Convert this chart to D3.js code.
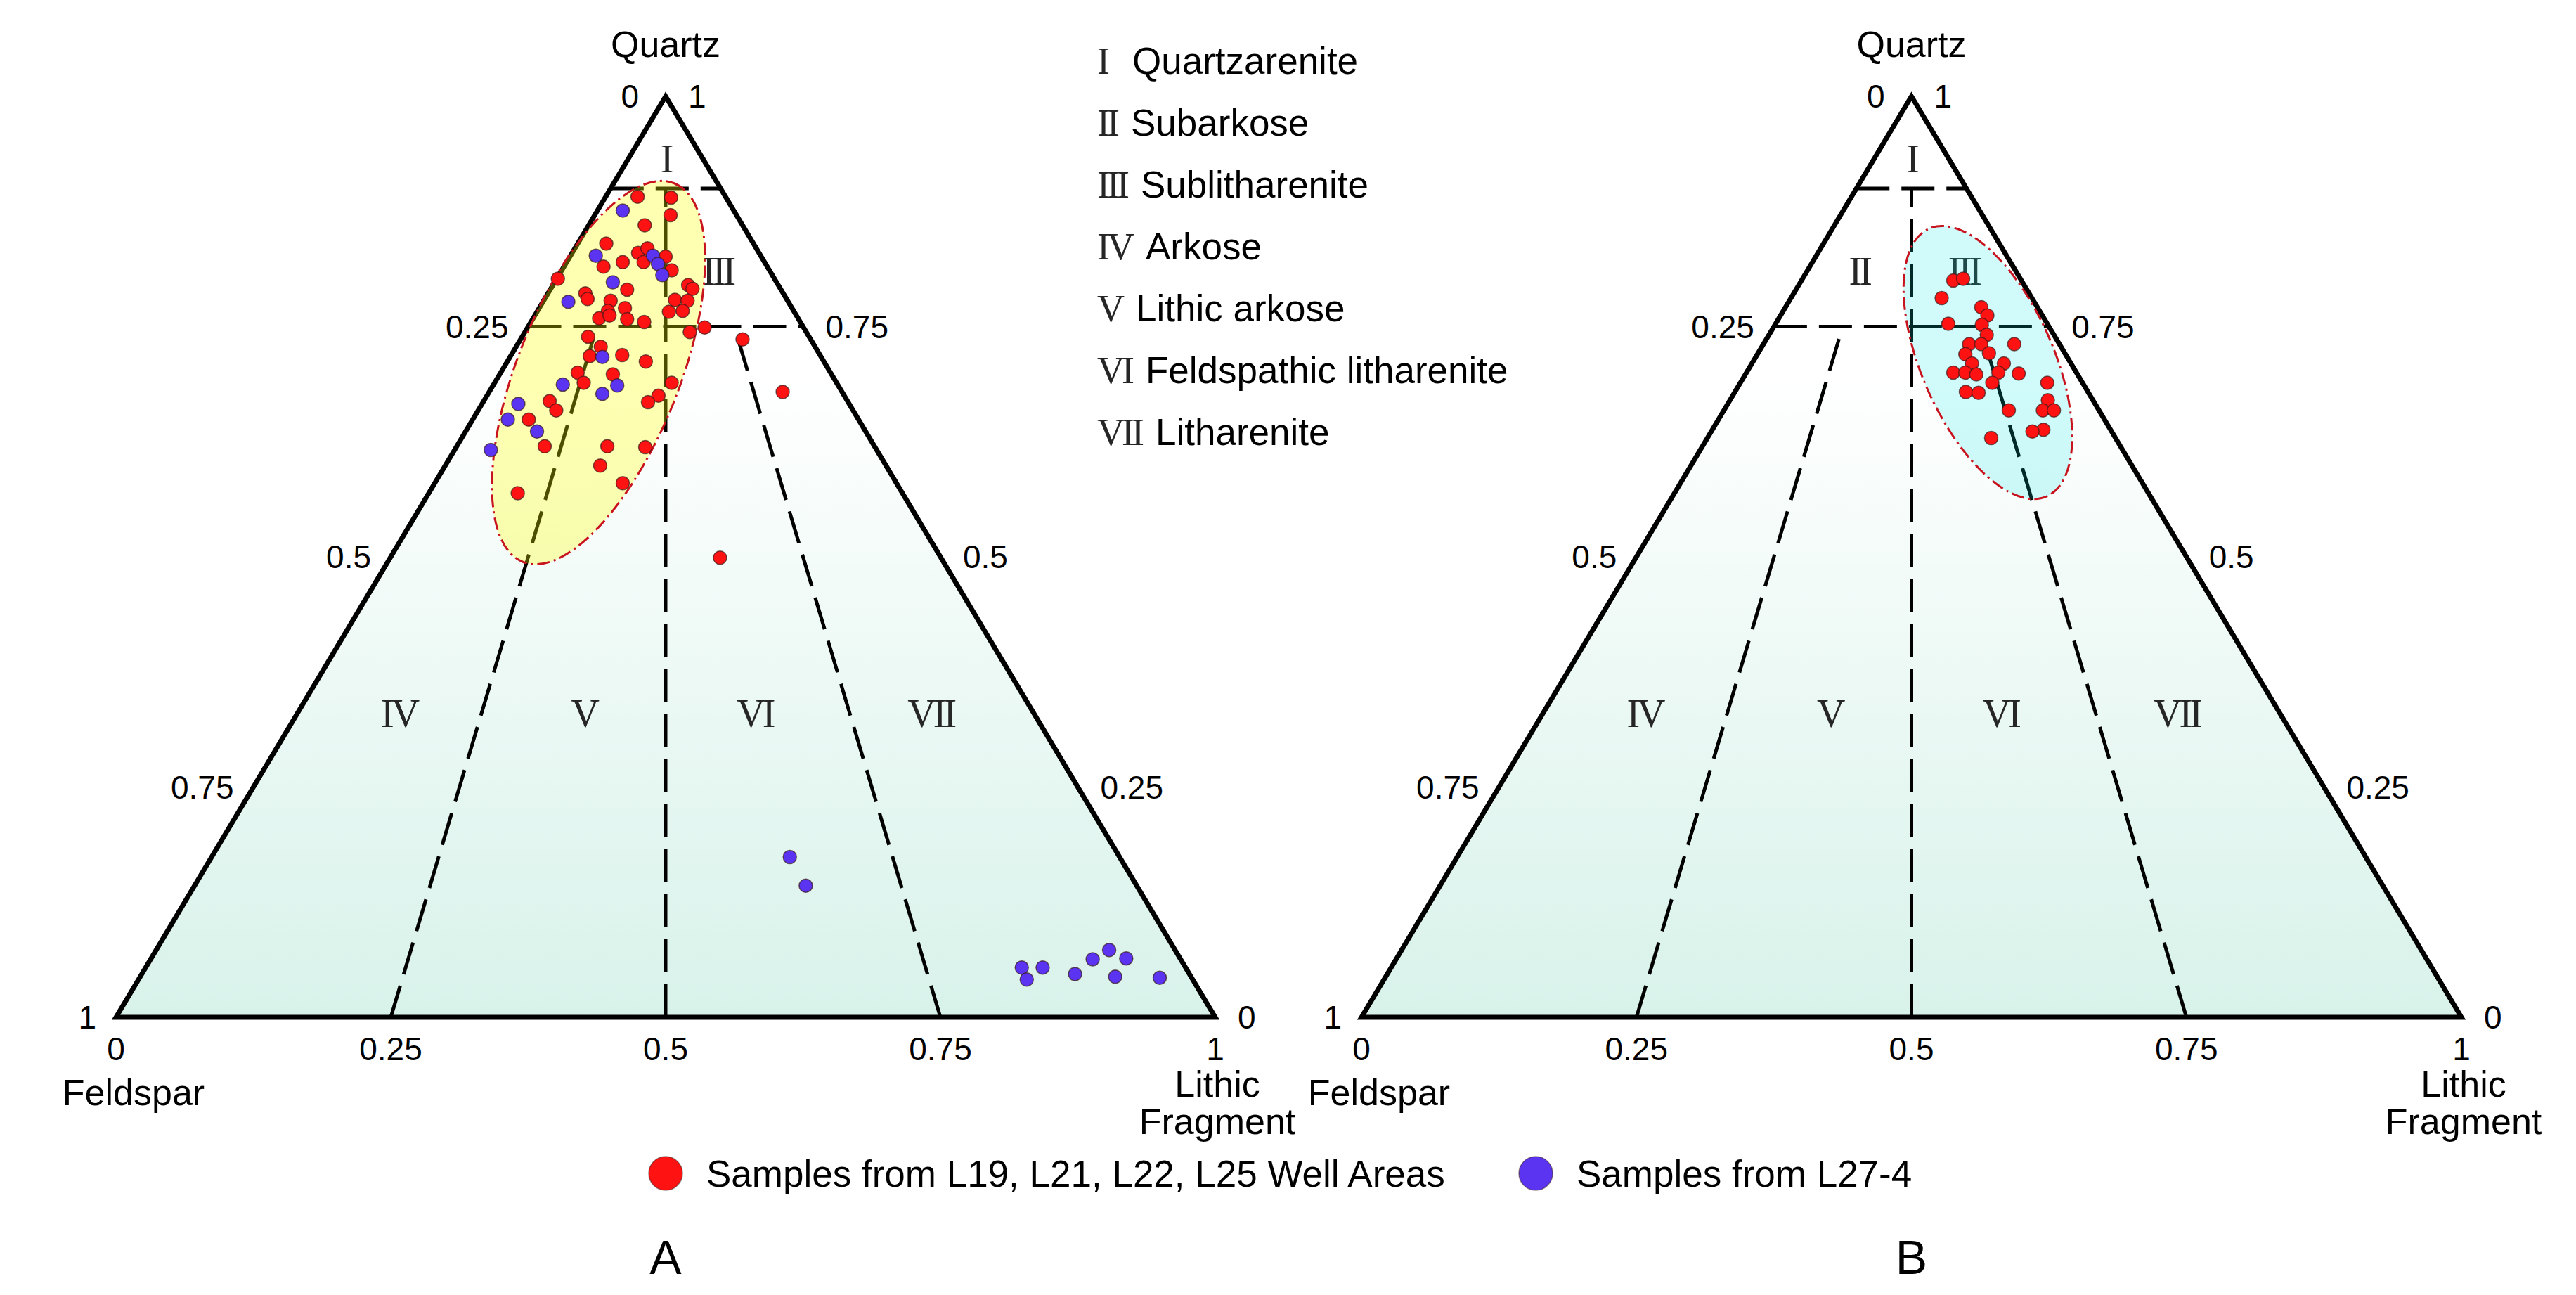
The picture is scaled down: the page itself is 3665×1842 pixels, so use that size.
<!DOCTYPE html>
<html>
<head>
<meta charset="utf-8">
<script src="https://cdn.jsdelivr.net/npm/d3@7"></script>
<style>
body { margin: 0; background: #fff; }
svg text { font-family: "Liberation Sans", Arial, sans-serif; fill: #000; }
svg text .roman, svg text.roman { font-family: "Liberation Serif", "Times New Roman", serif; }
</style>
</head>
<body>
<svg id="chart" width="3665" height="1842"></svg>
<script>
// sample compositions, [Quartz, Feldspar, Lithic fragment] in %
const redA = [
	[89.1, 8.0, 2.9], [89.0, 5.0, 6.0], [87.1, 6.0, 6.9], [86.0, 8.9, 5.1], [84.0, 13.4, 2.6],
	[83.0, 11.0, 6.0], [83.5, 9.9, 6.6], [82.0, 11.0, 7.0], [82.6, 8.7, 8.7], [81.5, 14.9, 3.6],
	[82.0, 12.9, 5.1], [81.1, 8.9, 10.0], [80.2, 19.7, 0.1], [79.0, 14.0, 7.0], [79.5, 8.2, 12.3],
	[79.1, 8.0, 12.9], [78.6, 18.0, 3.4], [78.0, 18.1, 3.9], [77.8, 16.1, 6.1], [77.9, 10.2, 11.9],
	[77.8, 9.1, 13.1], [77.0, 15.2, 7.8], [76.7, 16.9, 6.4], [75.9, 18.1, 6.0], [76.2, 17.0, 6.8],
	[75.8, 15.6, 8.6], [75.5, 14.2, 10.3], [76.6, 11.4, 12.0], [76.7, 10.1, 13.2], [74.4, 10.6, 15.0],
	[74.9, 9.0, 16.1], [73.9, 20.1, 6.0], [72.8, 19.5, 7.7], [71.8, 21.0, 7.2], [71.9, 18.0, 10.1],
	[71.2, 16.2, 12.6], [70.0, 23.0, 7.0], [68.9, 23.0, 8.1], [69.8, 19.9, 10.3], [68.9, 15.0, 16.1],
	[67.5, 16.9, 15.6], [66.8, 18.2, 15.0], [66.9, 27.1, 6.0], [65.9, 27.0, 7.1], [64.9, 30.0, 5.1],
	[62.0, 30.0, 8.0], [62.0, 24.3, 13.7], [61.9, 20.9, 17.2], [59.9, 26.0, 14.1], [58.0, 24.9, 17.1],
	[56.9, 35.0, 8.1], [49.9, 20.1, 30.0], [73.6, 6.2, 20.2], [67.9, 5.4, 26.7]
];
const blueA = [
	[87.6, 10.1, 2.3], [82.7, 15.0, 2.3], [82.7, 9.8, 7.5], [81.8, 9.8, 8.4], [80.6, 10.0, 9.4],
	[79.8, 14.9, 5.3], [77.7, 20.0, 2.3], [71.7, 19.9, 8.4], [68.7, 25.0, 6.3], [68.6, 20.1, 11.3],
	[67.7, 21.9, 10.4], [66.6, 30.1, 3.3], [64.9, 31.9, 3.2], [63.6, 31.9, 6.5], [61.6, 35.1, 3.3],
	[17.4, 30.0, 52.6], [14.3, 30.1, 55.6], [5.4, 14.9, 79.7], [5.4, 13.0, 81.6], [4.1, 15.1, 80.8],
	[4.7, 10.4, 84.9], [6.3, 8.0, 85.7], [7.3, 6.0, 86.7], [6.4, 4.9, 88.7], [4.4, 6.9, 88.7],
	[4.3, 2.9, 92.8]
];
const redB = [
	[80.0, 6.2, 13.8], [80.2, 5.2, 14.6], [78.1, 8.2, 13.7], [77.1, 5.1, 17.8], [76.2, 5.0, 18.8],
	[75.3, 9.0, 15.7], [75.2, 6.0, 18.8], [74.1, 6.1, 19.8], [73.1, 8.2, 18.7], [73.1, 7.1, 19.8],
	[73.1, 4.1, 22.8], [72.0, 9.1, 18.9], [72.1, 6.9, 21.0], [71.0, 9.0, 20.0], [71.0, 6.1, 22.9],
	[70.0, 11.2, 18.8], [70.0, 10.1, 19.9], [69.8, 9.2, 21.0], [70.0, 7.1, 22.9], [69.9, 5.3, 24.8],
	[68.9, 8.2, 22.9], [68.9, 3.2, 27.9], [67.9, 11.1, 21.0], [67.8, 10.0, 22.2], [65.9, 8.2, 25.9],
	[67.0, 4.1, 28.9], [65.9, 5.1, 29.0], [65.9, 4.1, 30.0], [63.8, 6.1, 30.1], [63.6, 7.2, 29.2],
	[62.9, 11.3, 25.8]
];

const ticks = [0, 0.25, 0.5, 0.75, 1];
const tickText = ['0', '0.25', '0.5', '0.75', '1'];
const regions = ['I', 'II', 'III', 'IV', 'V', 'VI', 'VII'];
const regionNames = ['Quartzarenite', 'Subarkose', 'Sublitharenite', 'Arkose',
	'Lithic arkose', 'Feldspathic litharenite', 'Litharenite'];
const seriesNames = ['Samples from L19, L21, L22, L25 Well Areas', 'Samples from L27-4'];

const RED = '#ff1212';
const BLUE = '#5b34f2';

const svg = d3.select('#chart');

const grad = svg.append('defs').append('linearGradient')
	.attr('id', 'bg').attr('x1', 0).attr('y1', 0).attr('x2', 0).attr('y2', 1);
grad.append('stop').attr('offset', 0).attr('stop-color', '#fff');
grad.append('stop').attr('offset', 0.3).attr('stop-color', '#fff');
grad.append('stop').attr('offset', 1).attr('stop-color', '#d8f2ea');

// one ternary diagram
function ternary(left, right, opts) {
	const base = 1447, top = 137;
	const x = d3.scaleLinear().domain([0, 1]).range([left, right]);
	const y = d3.scaleLinear().domain([0, 1]).range([base, top]);
	const pt = (q, l) => [x(l + q / 2), y(q)];
	const g = svg.append('g');
	const line = d3.line();

	g.append('path')
		.attr('d', line([pt(1, 0), pt(0, 0), pt(0, 1)]) + 'Z')
		.attr('fill', 'url(#bg)');

	// region labels: [Q, L/(F+L)]
	const spots = [[0.932, 0.5], [0.81, 0.25], [0.81, 0.75], [0.33, 0.138], [0.33, 0.389], [0.33, 0.621], [0.33, 0.86]];
	regions.forEach((r, i) => {
		if (opts.skip.includes(r)) return;
		const [q, k] = spots[i];
		const p = pt(q, (1 - q) * k);
		g.append('text').attr('class', 'roman')
			.attr('x', p[0]).attr('y', p[1])
			.attr('text-anchor', 'middle').attr('dominant-baseline', 'central')
			.attr('font-size', 56).attr('letter-spacing', -4)
			.style('fill', '#262626')
			.text(r);
	});

	const dashes = [
		[pt(0.9, 0), pt(0.9, 0.1)],
		[pt(0.75, 0), pt(0.75, 0.25)],
		[pt(0, 0.5), pt(0.9, 0.05)],
		[pt(0, 0.25), pt(0.75, 0.0625)],
		[pt(0, 0.75), pt(0.75, 0.1875)]
	];
	g.selectAll('.dash').data(dashes).enter().append('path')
		.attr('d', d => line(d))
		.attr('stroke', '#000').attr('stroke-width', 5)
		.attr('stroke-dasharray', '47,17').attr('fill', 'none');

	g.append('path')
		.attr('d', line([pt(1, 0), pt(0, 0), pt(0, 1)]) + 'Z')
		.attr('fill', 'none').attr('stroke', '#000').attr('stroke-width', 7)
		.attr('stroke-linejoin', 'miter');

	const e = opts.ellipse;
	const c = pt(e.q, e.l);
	g.append('ellipse')
		.attr('cx', c[0]).attr('cy', c[1]).attr('rx', e.rx).attr('ry', e.ry)
		.attr('transform', `rotate(${e.angle},${c[0]},${c[1]})`)
		.attr('fill', e.fill).attr('fill-opacity', e.opacity)
		.attr('stroke', '#c8141e').attr('stroke-width', 3)
		.attr('stroke-dasharray', '18,6,3,6');

	opts.series.forEach(s => {
		g.append('g').selectAll('circle').data(s.data).enter().append('circle')
			.attr('cx', d => pt(d[0] / 100, d[2] / 100)[0])
			.attr('cy', d => pt(d[0] / 100, d[2] / 100)[1])
			.attr('r', 9.5)
			.attr('fill', s.color)
			.attr('stroke', '#3a1a1a').attr('stroke-opacity', 0.7).attr('stroke-width', 1.5);
	});

	// tick labels on the three sides
	ticks.forEach((v, i) => {
		let p = pt(1 - v, 0);
		g.append('text').attr('x', p[0] - (v === 0 ? 38 : 28)).attr('y', p[1])
			.attr('text-anchor', 'end').attr('dominant-baseline', 'central')
			.attr('font-size', 46).text(tickText[i]);
		p = pt(v, 1 - v);
		g.append('text').attr('x', p[0] + 32).attr('y', p[1])
			.attr('text-anchor', 'start').attr('dominant-baseline', 'central')
			.attr('font-size', 46).text(tickText[i]);
		p = pt(0, v);
		g.append('text').attr('x', p[0]).attr('y', p[1] + 61)
			.attr('text-anchor', 'middle')
			.attr('font-size', 46).text(tickText[i]);
	});

	const apex = pt(1, 0), lo = pt(0, 0), hi = pt(0, 1);
	g.append('text').attr('x', apex[0]).attr('y', 81)
		.attr('text-anchor', 'middle').attr('font-size', 52).text('Quartz');
	g.append('text').attr('x', lo[0] + 25).attr('y', lo[1] + 125)
		.attr('text-anchor', 'middle').attr('font-size', 52).text('Feldspar');
	g.append('text').attr('x', hi[0] + 3).attr('y', hi[1] + 113)
		.attr('text-anchor', 'middle').attr('font-size', 52).text('Lithic');
	g.append('text').attr('x', hi[0] + 3).attr('y', hi[1] + 166)
		.attr('text-anchor', 'middle').attr('font-size', 52).text('Fragment');
	g.append('text').attr('x', apex[0]).attr('y', 1812)
		.attr('text-anchor', 'middle').attr('font-size', 68).text(opts.name);
}

ternary(165, 1729, {
	name: 'A',
	skip: ['II'],
	ellipse: { q: 0.700, l: 0.089, rx: 290, ry: 115, angle: -68.2, fill: '#ffff00', opacity: 0.3 },
	series: [{ data: redA, color: RED }, { data: blueA, color: BLUE }]
});
ternary(1937, 3502, {
	name: 'B',
	skip: [],
	ellipse: { q: 0.711, l: 0.214, rx: 208, ry: 94, angle: 66.3, fill: '#00e8e8', opacity: 0.18 },
	series: [{ data: redB, color: RED }]
});

// class legend
const leg = svg.append('g');
regions.forEach((r, i) => {
	const t = leg.append('text').attr('x', 1561).attr('y', 105 + i * 88).attr('font-size', 53);
	t.append('tspan').attr('class', 'roman').attr('font-size', 54).attr('letter-spacing', -4)
		.style('fill', '#262626').text(r);
	t.append('tspan').attr('dx', r === 'I' ? 36 : 20).attr('letter-spacing', 0).text(regionNames[i]);
});

// sample legend
const keys = [{ x: 947, color: RED }, { x: 2185, color: BLUE }];
keys.forEach((k, i) => {
	svg.append('circle').attr('cx', k.x).attr('cy', 1669).attr('r', 24)
		.attr('fill', k.color).attr('stroke', '#3a1a1a').attr('stroke-opacity', 0.5).attr('stroke-width', 1.5);
	svg.append('text').attr('x', k.x + 58).attr('y', 1669)
		.attr('dominant-baseline', 'central').attr('font-size', 53).text(seriesNames[i]);
});
</script>
</body>
</html>
